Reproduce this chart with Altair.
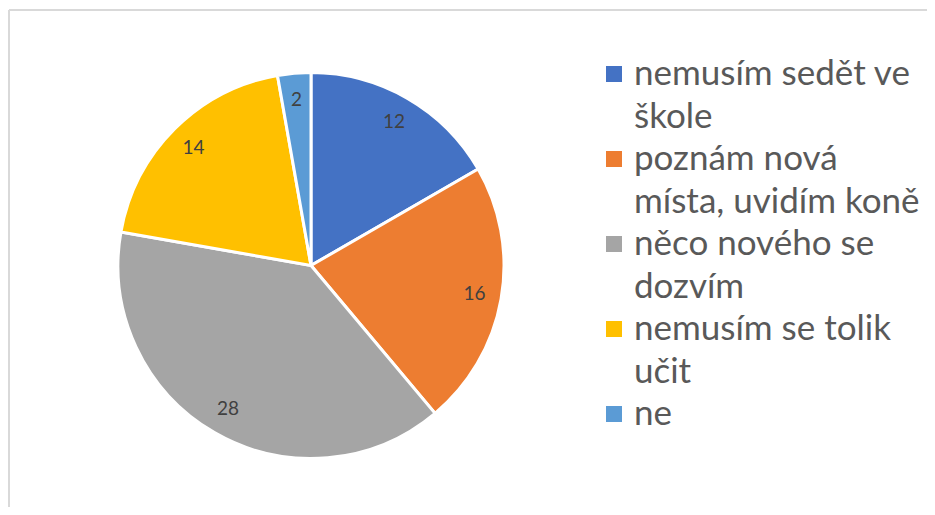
import altair as alt
import pandas as pd

categories = [
    "nemusím sedět ve škole",
    "poznám nová místa, uvidím koně",
    "něco nového se dozvím",
    "nemusím se tolik učit",
    "ne",
]
values = [12, 16, 28, 14, 2]
colors = ["#4472C4", "#ED7D31", "#A5A5A5", "#FFC000", "#5B9BD5"]
legend_lines = [
    ["nemusím sedět ve", "škole"],
    ["poznám nová", "místa, uvidím koně"],
    ["něco nového se", "dozvím"],
    ["nemusím se tolik", "učit"],
    ["ne"],
]

pie_df = pd.DataFrame({"cat": categories, "value": values, "idx": list(range(len(categories)))})

rows = []
r = 0
for i, (cat, lines) in enumerate(zip(categories, legend_lines)):
    for j, line in enumerate(lines):
        rows.append({"cat": cat, "text": line, "row": r, "first": j == 0})
        r += 1
leg_df = pd.DataFrame(rows)

W, H = 919, 499
CX, CY, R = 303, 257.5, 193

color_scale = alt.Scale(domain=categories, range=colors)

base = alt.Chart(pie_df)
pie = base.mark_arc(radius=R, stroke="white", strokeWidth=3).encode(
    theta=alt.Theta("value:Q", stack=True),
    color=alt.Color("cat:N", scale=color_scale, legend=None),
    order=alt.Order("idx:Q"),
    x=alt.value(CX),
    y=alt.value(CY),
)
labels = base.mark_text(radius=166, font="Lato", fontSize=19, color="#404040").encode(
    theta=alt.Theta("value:Q", stack=True),
    order=alt.Order("idx:Q"),
    text=alt.Text("value:Q"),
    x=alt.value(CX),
    y=alt.value(CY),
)

yscale = alt.Scale(domain=[0, 8], range=[66, 406])
leg_base = alt.Chart(leg_df)
squares = leg_base.transform_filter("datum.first").mark_square(size=256, opacity=1).encode(
    x=alt.value(606),
    y=alt.Y("row:Q", scale=yscale, axis=None),
    color=alt.Color("cat:N", scale=color_scale, legend=None),
)
texts = leg_base.mark_text(align="left", baseline="middle", font="Lato", fontSize=35, color="#595959").encode(
    x=alt.value(626),
    y=alt.Y("row:Q", scale=yscale, axis=None),
    text="text:N",
)

border_top = alt.Chart(pie_df).mark_rule(color="#d9d9d9", strokeWidth=1.5).encode(
    x=alt.value(1), x2=alt.value(W), y=alt.value(2)
)
border_left = alt.Chart(pie_df).mark_rule(color="#d9d9d9", strokeWidth=1.5).encode(
    x=alt.value(1), y=alt.value(2), y2=alt.value(H)
)

chart = alt.layer(border_top, border_left, pie, labels, squares, texts).properties(
    width=W, height=H, padding=0, autosize=alt.AutoSizeParams(type="none")
).configure_view(stroke=None)

chart.save("out.html", embed_options={"renderer": "svg", "actions": False})
